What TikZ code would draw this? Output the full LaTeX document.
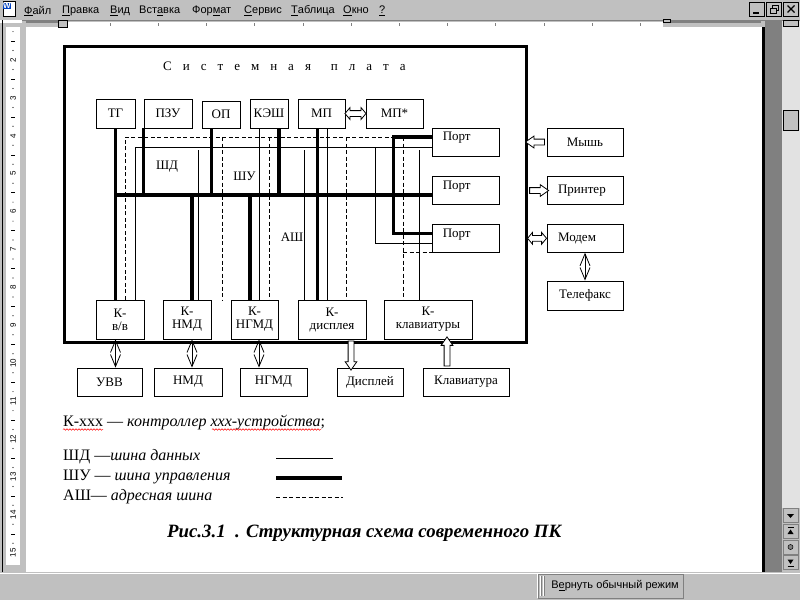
\documentclass[tikz,border=0pt]{standalone}
\usepackage{fontspec}
\setmainfont{Liberation Serif}
\newfontfamily\uifont{Liberation Sans}
\usetikzlibrary{shapes.arrows,arrows.meta,calc,decorations.pathmorphing}

\definecolor{winface}{RGB}{192,192,192}
\definecolor{winshade}{RGB}{128,128,128}
\definecolor{wintrack}{RGB}{226,226,226}
\definecolor{wordblue}{RGB}{0,64,192}

\newcommand{\dfont}{\fontsize{13}{13}\selectfont}
\newcommand{\tsp}{\hspace{11pt}}

\tikzset{
  box/.style={draw, line width=0.9pt, inner sep=0pt, minimum height=29pt, font=\dfont, align=center},
  ctrl/.style={box, minimum height=39pt},
  dev/.style={box, minimum height=28pt},
  port/.style={box, minimum width=67pt, minimum height=28pt,
    label={[anchor=west, font=\dfont, inner sep=0pt, xshift=11pt, yshift=4pt]west:Порт}},
  shd/.style={line width=0.9pt},
  shu/.style={line width=3.2pt},
  ash/.style={line width=0.9pt, dash pattern=on 4pt off 2.5pt},
  link/.style={line width=0.8pt, {Straight Barb[length=12pt,width=10pt]}-{Straight Barb[length=12pt,width=10pt]}},
  hollow/.style={single arrow, draw, line width=0.8pt, inner sep=2.5pt, minimum width=11pt,
    single arrow head extend=3pt, single arrow tip angle=70, fill=white},
  hollow2/.style={double arrow, draw, line width=0.8pt, inner sep=2.5pt, minimum width=11pt,
    double arrow head extend=3pt, double arrow tip angle=100, fill=white},
  menu/.style={anchor=west, inner sep=0pt, font=\uifont\fontsize{11}{11}\selectfont},
  winbtn/.style={draw=black, fill=winface, line width=0.7pt, inner sep=0pt, minimum width=15pt, minimum height=14pt},
  legend/.style={anchor=west, inner sep=0pt, font=\fontsize{16}{16}\selectfont}
}

\begin{document}
\begin{tikzpicture}[x=1pt, y=-1pt]
\useasboundingbox (0,0) rectangle (800,600);

% window frame
\fill[white] (0,0) rectangle (800,600);
\fill[winface] (0,0) rectangle (800,27);
\fill[winface] (0,27) rectangle (26,572);
\fill[winshade] (765,20) rectangle (782,572);
\fill[black] (762,27) rectangle (765,572);
\fill[wintrack] (782,20) rectangle (800,508);
\fill[winface] (782,508) rectangle (800,572);
\fill[winface] (0,572) rectangle (800,600);
\draw[white, line width=1pt] (0,573) -- (800,573);
\draw[winshade, line width=0.8pt] (0,20) -- (800,20);

% menu
\node[draw=black, fill=white, line width=0.5pt, minimum width=12pt, minimum height=15pt, inner sep=0pt] (icon) at (9,9) {};
\node[fill=wordblue, text=white, font=\uifont\bfseries\fontsize{8}{8}\selectfont, inner sep=0.6pt] (iconw) at ([xshift=-2pt,yshift=3pt]icon.center) {W};
\node[menu] (mfile) at (24,11) {\underline{Ф}айл};
\node[menu] (medit) at (62,11) {\underline{П}равка};
\node[menu] (mview) at (110,11) {\underline{В}ид};
\node[menu] (minsert) at (139,11) {Вст\underline{а}вка};
\node[menu] (mformat) at (192,11) {Фор\underline{м}ат};
\node[menu] (mtools) at (244,11) {\underline{С}ервис};
\node[menu] (mtable) at (291,11) {\underline{Т}аблица};
\node[menu] (mwindow) at (343,11) {\underline{О}кно};
\node[menu] (mhelp) at (379,11) {\underline{?}};
\node[winbtn] (bmin) at (757,9) {};
\node[winbtn] (bmax) at (774,9) {};
\node[winbtn] (bclose) at (791,9) {};
\draw[line width=1.6pt] ($(bmin.center)+(-4,4)$) -- ++(6,0);
\draw[line width=0.8pt] ($(bmax.center)+(-2,-4)$) rectangle ++(6,5);
\draw[line width=0.8pt, fill=winface] ($(bmax.center)+(-4,-1)$) rectangle ++(6,5);
\draw[line width=1.3pt] ($(bclose.center)+(-3.5,-3.5)$) -- ++(7,7);
\draw[line width=1.3pt] ($(bclose.center)+(3.5,-3.5)$) -- ++(-7,7);

% rulers
\fill[white] (0,20) rectangle (22,23);
\fill[white] (67,22) rectangle (663,27);
\fill[winshade] (26,21) rectangle (58,23);
\fill[winshade] (670,21) rectangle (761,23);
\foreach \k in {0,...,11}
  \draw[winshade] ({110+48.2*\k},23) -- ++(0,2.5);
\draw[fill=winface, line width=0.5pt] (58,20) rectangle (67,27);
\draw[fill=winface, line width=0.5pt] (663,19) rectangle (670,22);
\draw[black, line width=0.8pt] (2,20) -- (2,572);
\fill[white] (6,27) rectangle (20,565);
\foreach \n in {2,...,15}
  \node[rotate=90, font=\uifont\fontsize{8}{8}\selectfont, inner sep=0pt] (rn\n) at (13,{-15.8+37.9*\n}) {\n};
\foreach \n in {1,...,14} {
  \fill (13,{-15.8+37.9*\n+9.5}) circle (0.6pt);
  \draw[line width=0.6pt] (11,{-15.8+37.9*\n+19}) -- (15,{-15.8+37.9*\n+19});
  \fill (13,{-15.8+37.9*\n+28.4}) circle (0.6pt);
}

% scroll bar
\draw[fill=winface, line width=0.5pt] (783,20) rectangle (798,26);
\draw[fill=winface, line width=0.5pt] (783,110) rectangle (798,130);
\node[winbtn, draw=winshade] (sb1) at (790.5,515.5) {};
\node[winbtn, draw=winshade] (sb2) at (790.5,531) {};
\node[winbtn, draw=winshade] (sb3) at (790.5,547) {};
\node[winbtn, draw=winshade] (sb4) at (790.5,562.5) {};
\fill ($(sb1.center)+(-3.5,-1.5)$) -- ++(7,0) -- ++(-3.5,4) -- cycle;
\draw[line width=0.8pt] ($(sb2.center)+(-3,-3.5)$) -- ++(6,0);
\fill ($(sb2.center)+(-3,3)$) -- ++(6,0) -- ++(-3,-4.5) -- cycle;
\draw[fill=winshade, line width=0.5pt] (sb3.center) circle (2.5pt);
\fill ($(sb4.center)+(-3,-3)$) -- ++(6,0) -- ++(-3,4.5) -- cycle;
\draw[line width=0.8pt] ($(sb4.center)+(-3,3.5)$) -- ++(6,0);

% status bar
\node[draw=winshade, fill=winface, line width=0.8pt, minimum width=145pt, minimum height=24pt, inner sep=0pt,
  font=\uifont\fontsize{11}{11}\selectfont] (normal) at (610.5,586) {\hspace*{9pt}В\underline{е}рнуть обычный режим};
\draw[white, line width=0.8pt] (normal.south west) -- (normal.north west) -- (normal.north east);
\foreach \dx in {2.5,5.5} {
  \draw[white, line width=0.8pt] ([xshift=\dx pt, yshift=-2pt]normal.north west) -- ([xshift=\dx pt, yshift=2pt]normal.south west);
  \draw[winshade, line width=0.8pt] ([xshift=\dx pt+1pt, yshift=-2pt]normal.north west) -- ([xshift=\dx pt+1pt, yshift=2pt]normal.south west);
}

% system board
\node[draw, line width=3pt, minimum width=462pt, minimum height=296pt, inner sep=0pt] (board) at (295,194) {};
\node[anchor=west, inner sep=0pt, font=\dfont] (title) at (163,66)
  {С\tsp и\tsp с\tsp т\tsp е\tsp м\tsp н\tsp а\tsp я\hspace{20pt}п\tsp л\tsp а\tsp т\tsp а};

% top blocks
\node[box, minimum width=39pt] (tg) at (115.5,113.5) {ТГ};
\node[box, minimum width=48pt] (pzu) at (168,113.5) {ПЗУ};
\node[box, minimum width=38pt, minimum height=27pt] (op) at (221,114.5) {ОП};
\node[box, minimum width=38pt] (kesh) at (269,113.5) {КЭШ};
\node[box, minimum width=47pt] (mp) at (321.5,113.5) {МП};
\node[box, minimum width=57pt] (mpst) at (394.5,113.5) {МП*};

% ports
\node[port] (port1) at (465.5,142) {};
\node[port] (port2) at (465.5,190.5) {};
\node[port] (port3) at (465.5,238.3) {};

% outside devices
\node[dev, minimum width=76pt] (mouse) at (585,142) {Мышь};
\node[dev, minimum width=76pt, text width=54pt, align=left] (printer) at (585,190.5) {Принтер};
\node[dev, minimum width=76pt, text width=54pt, align=left] (modem) at (585,238.3) {Модем};
\node[box, minimum width=76pt] (fax) at (585,295.5) {Телефакс};

% controllers
\node[ctrl, minimum width=48pt] (kvv) at (120,319.5) {К-\\в/в};
\node[ctrl, minimum width=48pt] (knmd) at (187,319.5) {К-\\НМД};
\node[ctrl, minimum width=47pt] (kngmd) at (254.5,319.5) {К-\\НГМД};
\node[ctrl, minimum width=68pt] (kdisp) at (332,319.5) {К-\\дисплея};
\node[ctrl, minimum width=88pt] (kklav) at (428,319.5) {К-\\клавиатуры};

% devices
\node[dev, minimum width=65pt] (uvv) at (109.5,382) {УВВ};
\node[dev, minimum width=68pt] (nmd) at (188,382) {НМД};
\node[dev, minimum width=67pt] (ngmd) at (273.5,382) {НГМД};
\node[dev, minimum width=66pt] (disp) at (370,382) {Дисплей};
\node[dev, minimum width=86pt] (klav) at (466,382) {Клавиатура};

% bus labels
\node[font=\dfont, inner sep=0pt] (lshd) at (167,167) {ШД};
\node[font=\dfont, inner sep=0pt] (lshu) at (244.5,176) {ШУ};
\node[font=\dfont, inner sep=0pt] (lash) at (292,237.5) {АШ};

\coordinate (shu) at (115.5,195);
\coordinate (shd) at (135,147.3);
\coordinate (ash) at (125,137);

% address bus
\draw[ash] (ash |- kvv.north) -- (ash) -- ([xshift=-38pt]port1.west |- ash);
\draw[ash] ([xshift=10.5pt]knmd.north east |- ash) -- ([xshift=10.5pt]knmd.north east);
\draw[ash] ([xshift=14.5pt]kngmd.north |- ash) -- ([xshift=14.5pt]kngmd.north);
\draw[ash] ([xshift=14pt]kdisp.north |- ash) -- ([xshift=14pt]kdisp.north);
\draw[ash] ([xshift=-25pt]kklav.north |- ash) -- ([xshift=-25pt]kklav.north);
\draw[ash] ([xshift=-25pt]kklav.north |- port3.south) -- (port3.south west);

% data bus
\draw[shd] (port1.west |- shd) -- (shd) -- (shd |- kvv.north);
\draw[shd] ([xshift=11pt]knmd.north) -- ++(0,-150);
\draw[shd] ([xshift=-10pt]kesh.south) -- ([xshift=-10pt]kesh.south |- kngmd.north);
\draw[shd] ([xshift=-28pt]kdisp.north) -- ++(0,-150);
\draw[shd] ([xshift=6pt]mp.south) -- ([xshift=6pt]mp.south |- kdisp.north);
\draw[shd] ([xshift=-56pt]port1.west |- shd) |- ([yshift=-5pt]port3.west);
\draw[shd] ([xshift=-9pt]kklav.north) -- ++(0,-150);

% control bus
\draw[shu] (tg.south) -- (tg.south |- kvv.north);
\draw[shu] (shu) -- (shu -| port2.west);
\draw[shu] (pzu.south west) -- (pzu.south west |- shu);
\draw[shu] ([xshift=-9.5pt]op.south) -- ([xshift=-9.5pt]op.south |- shu);
\draw[shu] ([xshift=10pt]kesh.south) -- ([xshift=10pt]kesh.south |- shu);
\draw[shu] ([xshift=-4pt]mp.south) -- ([xshift=-4pt]mp.south |- kdisp.north);
\draw[shu] ([xshift=5pt]knmd.north |- shu) -- ([xshift=5pt]knmd.north);
\draw[shu] ([xshift=-4.5pt]kngmd.north |- shu) -- ([xshift=-4.5pt]kngmd.north);
\draw[shu] ([yshift=5pt]port1.west) -- ++(-38,0) |- ([yshift=5pt]port3.west);

% links
\draw[link] (tg.south |- kvv.south) -- (tg.south |- uvv.north);
\draw[link] ([xshift=5pt]knmd.south) -- ([xshift=5pt]knmd.south |- nmd.north);
\draw[link] ([xshift=4.5pt]kngmd.south) -- ([xshift=4.5pt]kngmd.south |- ngmd.north);
\draw[link] (modem.south) -- (fax.north);
\node[hollow2, minimum height=21pt] (amp) at ($(mp.east)!.5!(mpst.west)$) {};
\node[hollow, minimum height=19pt, shape border rotate=180] (amouse) at ($(mouse.west)+(-9.5,0)$) {};
\node[hollow, minimum height=19pt] (aprinter) at ($(printer.west)+(-9.5,0)$) {};
\node[hollow2, minimum height=19pt] (amodem) at ($(modem.west)+(-9.5,0)$) {};
\node[hollow, minimum height=29pt, shape border rotate=270] (adisp) at ($(kdisp.south)!.5!(disp.north)$) {};
\node[hollow, minimum height=29pt, shape border rotate=90] (aklav) at ($(kklav.south)!.5!(klav.north)$) {};

% legend
\node[legend] (lk) at (63,423) {К-ххх — \textit{контроллер ххх-устройства};};
\draw[red, line width=0.5pt, decorate, decoration={snake, amplitude=0.8pt, segment length=3pt}] (63,429.5) -- (103,429.5);
\draw[red, line width=0.5pt, decorate, decoration={snake, amplitude=0.8pt, segment length=3pt}] (212,429.5) -- (321,429.5);
\node[legend] (l1) at (63,457) {ШД —\textit{шина данных}};
\node[legend] (l2) at (63,477) {ШУ — \textit{шина управления}};
\node[legend] (l3) at (63,497) {АШ— \textit{адресная шина}};
\coordinate (s1) at (276,458);
\coordinate (s2) at (276,478);
\coordinate (s3) at (276,497);
\draw[shd] (s1) -- ++(57,0);
\draw[shu] (s2) -- ++(66,0);
\draw[ash] (s3) -- ++(67,0);
\node[anchor=west, inner sep=0pt, font=\bfseries\itshape\fontsize{18.8}{18.8}\selectfont] (caption) at (167,533)
  {Рис.3.1\ \ . Структурная схема современного ПК};
\end{tikzpicture}
\end{document}
